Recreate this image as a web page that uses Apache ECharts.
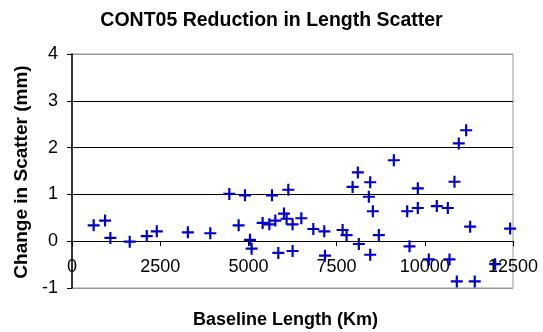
<!DOCTYPE html>
<html>
<head>
<meta charset="utf-8">
<script src="https://cdn.jsdelivr.net/npm/echarts@6/dist/echarts.min.js"></script>
<style>html,body{margin:0;padding:0;background:#fff}#c{width:543px;height:332px}</style>
</head>
<body>
<div id="c"></div>
<script>
const chartTitle = 'CONT05 Reduction in Length Scatter';
const xTitle = 'Baseline Length (Km)';
const yTitle = 'Change in Scatter (mm)';
const baselineKm = [614, 937, 1088, 1636, 2119, 2403, 3284, 3920, 4459, 4723, 4903, 5045, 5091, 5403, 5593, 5669, 5763, 5848, 6009, 6083, 6131, 6253, 6253, 6500, 6840, 7151, 7171, 7670, 7783, 7954, 8102, 8130, 8414, 8453, 8453, 8527, 8697, 9122, 9501, 9567, 9802, 9802, 10113, 10340, 10652, 10700, 10841, 10907, 10963, 11173, 11286, 11416, 11994, 12419];
const scatterChange = [0.34, 0.44, 0.07, -0.01, 0.11, 0.21, 0.19, 0.17, 1.01, 0.34, 0.98, 0.03, -0.16, 0.39, 0.36, 0.98, 0.44, -0.25, 0.59, 0.48, 1.10, 0.36, -0.21, 0.49, 0.26, 0.21, -0.31, 0.24, 0.13, 1.16, 1.47, -0.06, 0.95, 1.26, -0.29, 0.64, 0.13, 1.73, 0.64, -0.11, 1.13, 0.71, -0.39, 0.75, 0.71, -0.39, 1.27, -0.86, 2.09, 2.37, 0.31, -0.86, -0.49, 0.27];
const xTicks = [0, 2500, 5000, 7500, 10000, 12500];
const yTicks = [-1, 0, 1, 2, 3, 4];

const points = baselineKm.map((x, i) => [x, scatterChange[i]]);
const FONT = '"Liberation Sans", Arial, sans-serif';
const GRID_TOP = 54, GRID_BOTTOM = 44, H = 332;
const plotH = H - GRID_TOP - GRID_BOTTOM;
// place the x axis line where y = 0 lies
const zeroOffset = -plotH * (0 - yTicks[0]) / (yTicks[yTicks.length - 1] - yTicks[0]);

const chart = echarts.init(document.getElementById('c'), null, {renderer: 'canvas'});
chart.setOption({
  animation: false,
  backgroundColor: '#fff',
  title: {
    text: chartTitle, left: 'center', top: 6,
    textStyle: {fontFamily: FONT, fontWeight: 'bold', fontSize: 19.5, color: '#000'}
  },
  grid: {left: 72, right: 30, top: GRID_TOP, bottom: GRID_BOTTOM, show: true, borderColor: '#999', borderWidth: 1, backgroundColor: 'transparent'},
  xAxis: {
    type: 'value', min: xTicks[0], max: xTicks[xTicks.length - 1], interval: 2500,
    position: 'bottom', offset: zeroOffset,
    axisLine: {show: true, onZero: false, lineStyle: {color: '#000', width: 1}},
    axisTick: {show: true, inside: false, length: 5, lineStyle: {color: '#000'}},
    axisLabel: {margin: 17, fontFamily: FONT, fontSize: 18, color: '#000', formatter: v => String(v)},
    splitLine: {show: false}
  },
  yAxis: {
    type: 'value', min: yTicks[0], max: yTicks[yTicks.length - 1], interval: 1,
    axisLine: {show: true, onZero: false, lineStyle: {color: '#000', width: 1.5}},
    axisTick: {show: true, inside: false, length: 5, lineStyle: {color: '#000'}},
    axisLabel: {margin: 14, fontFamily: FONT, fontSize: 18, color: '#000'},
    splitLine: {show: true, lineStyle: {color: ['#999', '#000', '#000', '#000', '#000', '#999'], width: 1}}
  },
  graphic: [
    {type: 'text', left: 293 - 100, top: 311, style: {text: xTitle, font: 'bold 18px ' + FONT, fill: '#000', width: 200, align: 'center'}},
    {type: 'text', x: 22, y: 172, rotation: Math.PI / 2, style: {text: yTitle, font: 'bold 19px ' + FONT, fill: '#000', align: 'center', verticalAlign: 'middle'}}
  ],
  series: [{
    type: 'scatter',
    data: points,
    symbol: 'path://M4.5,0h2v4.5h4.5v2h-4.5v4.5h-2v-4.5h-4.5v-2h4.5z',
    symbolSize: 12,
    itemStyle: {color: '#0000CC', opacity: 1},
    z: 5
  }]
});
</script>
</body>
</html>
